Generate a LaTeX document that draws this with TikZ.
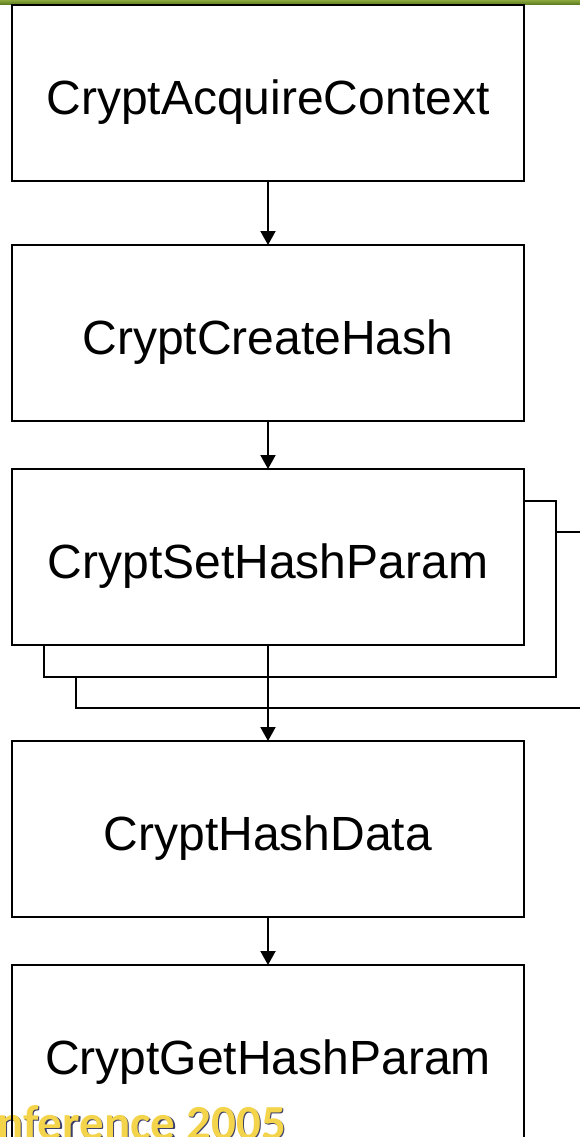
\documentclass[tikz,border=0pt]{standalone}
\usepackage{fontspec}
\setmainfont{Liberation Sans}
\newfontfamily\confont{Carlito}
\usetikzlibrary{arrows.meta}
\definecolor{barlight}{HTML}{8AA83C}
\definecolor{bardark}{HTML}{5C7A1E}
\definecolor{confyellow}{HTML}{F3D44A}
\definecolor{confshadow}{HTML}{3C3F6B}
\tikzset{
  stepbox/.style={draw=black, line width=2pt, minimum width=512pt, minimum height=176pt,
    inner sep=0pt, outer sep=0pt, anchor=north west, text height=42pt, text depth=0pt,
    font=\fontsize{48}{48}\selectfont},
  layerbox/.style={draw=black, fill=white, line width=1.8pt, minimum width=512pt,
    minimum height=176pt, inner sep=0pt, outer sep=0pt, anchor=north west},
  arr/.style={line width=2pt, -{Triangle[width=15pt,length=14pt]}},
  conf/.style={anchor=base west, inner sep=0pt, font=\confont\bfseries\fontsize{49}{49}\selectfont}
}
\begin{document}
\begin{tikzpicture}[x=1pt,y=-1pt]
\useasboundingbox (0,0) rectangle (580,1137);
% top bar
\shade[top color=barlight, bottom color=bardark] (0,0) rectangle (580,4.5);
% conference text
\node[conf, text=confshadow] (confs) at (-1.5,1140.5) {nference 2005};
\node[conf, text=confyellow] (conf) at (-3,1139) {nference 2005};
% layered boxes behind CryptSetHashParam
\node[layerbox] (s2) at (76,532.3) {};
\node[layerbox] (s1) at (43.7,501) {};
% main boxes
\node[stepbox] (b1) at (12,5) {CryptAcquireContext};
\node[stepbox] (b2) at (12,245) {CryptCreateHash};
\node[stepbox, fill=white] (b3) at (12,469) {CryptSetHashParam};
\node[stepbox] (b4) at (12,741) {CryptHashData};
\node[stepbox] (b5) at (12,965) {CryptGetHashParam};
% connectors
\draw[arr] (b1.south) -- (b2.north);
\draw[arr] (b2.south) -- (b3.north);
\draw[arr] (b3.south) -- (b4.north);
\draw[arr] (b4.south) -- (b5.north);
\end{tikzpicture}
\end{document}
